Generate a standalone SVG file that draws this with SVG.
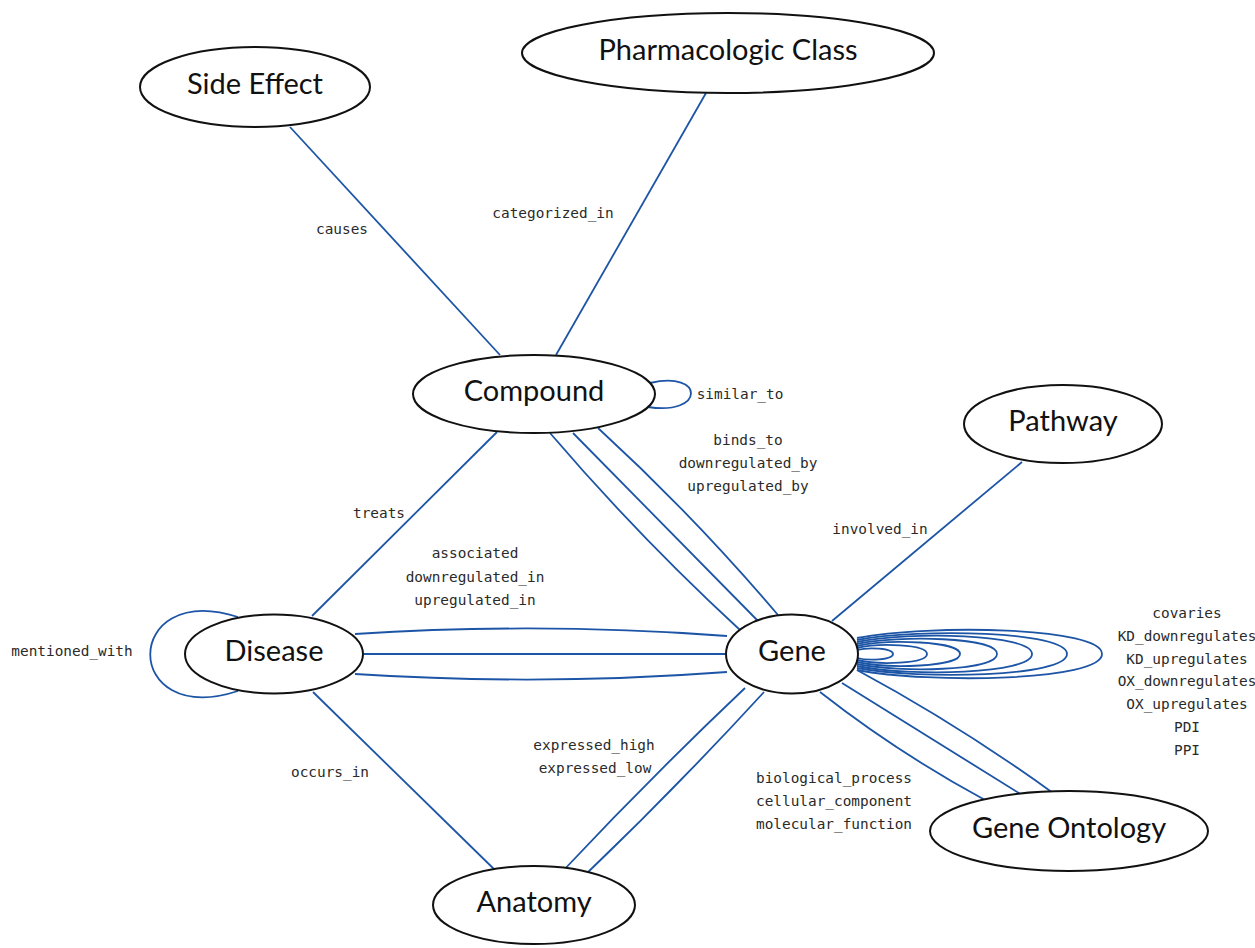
<svg xmlns="http://www.w3.org/2000/svg" width="1255" height="948" viewBox="0 0 1255 948">
<style>
.node ellipse{fill:#fff;stroke:#111;stroke-width:2}
.node text{font-family:Lato,"Noto Sans",sans-serif;font-size:29px;fill:#111;text-anchor:middle}
.edges path{fill:none;stroke:#1d55a6;stroke-width:1.8}
.lbl{font-family:"DejaVu Sans Mono","Liberation Mono",monospace;font-size:14.4px;fill:#2a2a2a;text-anchor:middle}
</style>
<rect width="1255" height="948" fill="#fff"/>
<g class="edges" id="connectors">
<path d="M290,127 L500,355"/>
<path d="M706,93 L556,355"/>
<path d="M650,383 C705,370 705,416 648,407"/>
<path d="M550,433 Q639,537 740,630"/>
<path d="M573,433 L758,621"/>
<path d="M598,428 Q694,516 778,615"/>
<path d="M497,432 L312,616"/>
<path d="M355,634 Q541,622 727,636"/>
<path d="M363,654 L726,654"/>
<path d="M355,674 Q541,686 727,672"/>
<path d="M238,617 C121,580 121,729 238,691"/>
<path d="M313,692 L498,873"/>
<path d="M745,688 Q650,778 560,874"/>
<path d="M764,692 Q676,788 583,877"/>
<path d="M832,621 L1022,462"/>
<path d="M820,692 Q898,753 985,800"/>
<path d="M842,683 L1022,795"/>
<path d="M857,670 Q959,725 1053,793"/>
<path d="M857,650 C868,647 893,648 893,654 C893,660 868,661 857,658"/>
<path d="M857,648 C878,643 927,644 927,654 C927,664 878,665 857,660"/>
<path d="M857,646 C888,639 960,641 960,654 C960,667 888,669 857,662"/>
<path d="M857,644 C899,635 997,637 997,654 C997,671 899,673 857,664"/>
<path d="M857,642 C910,631 1032,634 1032,654 C1032,674 910,677 857,666"/>
<path d="M857,640 C920,628 1067,631 1067,654 C1067,677 920,680 857,668"/>
<path d="M857,638 C930,624 1102,627 1102,654 C1102,681 930,684 857,670"/>
</g>
<g id="edge-labels">
<text class="lbl" x="342" y="234">causes</text>
<text class="lbl" x="553" y="218">categorized_in</text>
<text class="lbl" x="740" y="399">similar_to</text>
<text class="lbl" x="748" y="445">binds_to</text>
<text class="lbl" x="748" y="468">downregulated_by</text>
<text class="lbl" x="748" y="491">upregulated_by</text>
<text class="lbl" x="379" y="518">treats</text>
<text class="lbl" x="475" y="558">associated</text>
<text class="lbl" x="475" y="582">downregulated_in</text>
<text class="lbl" x="475" y="605">upregulated_in</text>
<text class="lbl" x="880" y="534">involved_in</text>
<text class="lbl" x="72" y="656">mentioned_with</text>
<text class="lbl" x="330" y="777">occurs_in</text>
<text class="lbl" x="594" y="750">expressed_high</text>
<text class="lbl" x="595" y="773">expressed_low</text>
<text class="lbl" x="834" y="783">biological_process</text>
<text class="lbl" x="834" y="806">cellular_component</text>
<text class="lbl" x="834" y="829">molecular_function</text>
<text class="lbl" x="1187" y="618">covaries</text>
<text class="lbl" x="1187" y="641">KD_downregulates</text>
<text class="lbl" x="1187" y="664">KD_upregulates</text>
<text class="lbl" x="1187" y="686">OX_downregulates</text>
<text class="lbl" x="1187" y="709">OX_upregulates</text>
<text class="lbl" x="1187" y="732">PDI</text>
<text class="lbl" x="1187" y="755">PPI</text>
</g>
<g class="node" id="side-effect"><ellipse cx="255" cy="87" rx="115" ry="40"/><text x="255" y="94">Side Effect</text></g>
<g class="node" id="pharmacologic-class"><ellipse cx="728" cy="53" rx="206" ry="40"/><text x="728" y="60">Pharmacologic Class</text></g>
<g class="node" id="compound"><ellipse cx="534" cy="394" rx="121" ry="39"/><text x="534" y="401">Compound</text></g>
<g class="node" id="pathway"><ellipse cx="1063" cy="424" rx="99" ry="39"/><text x="1063" y="431">Pathway</text></g>
<g class="node" id="disease"><ellipse cx="274" cy="654" rx="89" ry="39.5"/><text x="274" y="661">Disease</text></g>
<g class="node" id="gene"><ellipse cx="792" cy="654" rx="66" ry="39.5"/><text x="792" y="661">Gene</text></g>
<g class="node" id="gene-ontology"><ellipse cx="1069" cy="831" rx="139" ry="40"/><text x="1069" y="838">Gene Ontology</text></g>
<g class="node" id="anatomy"><ellipse cx="534" cy="905" rx="101" ry="39"/><text x="534" y="912">Anatomy</text></g>
</svg>
